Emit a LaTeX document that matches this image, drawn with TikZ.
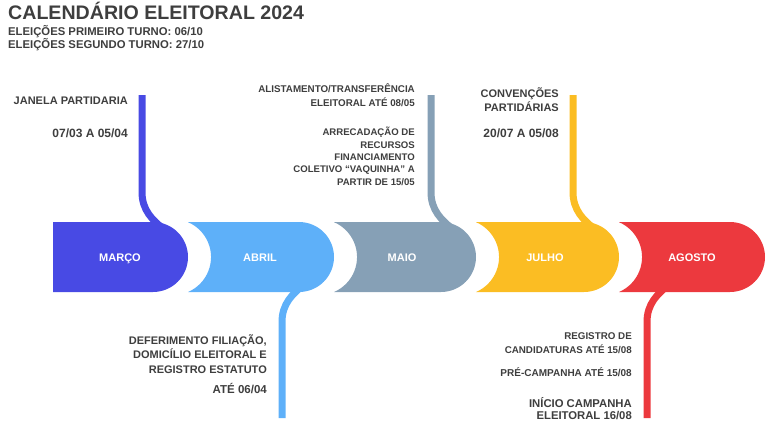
\documentclass[tikz,border=0pt]{standalone}
\usepackage{fontspec}
\setmainfont{Liberation Sans}
\usetikzlibrary{positioning}

\definecolor{ink}{RGB}{62,62,62}
\definecolor{marco}{RGB}{72,74,228}
\definecolor{abril}{RGB}{94,176,249}
\definecolor{maio}{RGB}{134,160,182}
\definecolor{julho}{RGB}{251,189,35}
\definecolor{agosto}{RGB}{236,57,62}

\begin{document}
\begin{tikzpicture}[
  x=1pt, y=-1pt,
  every node/.style={inner sep=0pt, text=ink},
  month/.style={anchor=base, text=white, font=\bfseries\fontsize{11}{13}\selectfont},
  note/.style={anchor=base east, align=right, font=\bfseries\fontsize{11}{14.5}\selectfont},
  small/.style={font=\bfseries\fontsize{9.6}{12.3}\selectfont},
  date/.style={font=\bfseries\fontsize{12}{14}\selectfont},
  tail/.style={line width=7pt}
]
\useasboundingbox (0,0) rectangle (768,424);

% Heading (base = last line)
\node[anchor=base west, font=\bfseries\fontsize{19.6}{24}\selectfont] (title) at (8,19) {CALENDÁRIO ELEITORAL 2024};
\node[anchor=base west, align=left, font=\bfseries\fontsize{11.3}{13.5}\selectfont] (rounds) at (8,48.5) {ELEIÇÕES PRIMEIRO TURNO: 06/10\\ELEIÇÕES SEGUNDO TURNO: 27/10};

% Band of months
\fill[marco] (53,222) -- (153,222) arc[start angle=-90, end angle=90, radius=35] -- (53,292) -- cycle;
\fill[abril] (188,222) -- (299,222) arc[start angle=-90, end angle=90, radius=35] -- (188,292) arc[start angle=66.8, end angle=-66.8, radius=38] -- cycle;
\fill[maio] (334,222) -- (441,222) arc[start angle=-90, end angle=90, radius=35] -- (334,292) arc[start angle=66.8, end angle=-66.8, radius=38] -- cycle;
\fill[julho] (476,222) -- (584,222) arc[start angle=-90, end angle=90, radius=35] -- (476,292) arc[start angle=66.8, end angle=-66.8, radius=38] -- cycle;
\fill[agosto] (619,222) -- (730,222) arc[start angle=-90, end angle=90, radius=35] -- (619,292) arc[start angle=66.8, end angle=-66.8, radius=38] -- cycle;

\node[month] (Marco) at (120,261) {MARÇO};
\node[month] (Abril) at (260,261) {ABRIL};
\node[month] (Maio) at (402,261) {MAIO};
\node[month] (Julho) at (545,261) {JULHO};
\node[month] (Agosto) at (692,261) {AGOSTO};

% Tails
\coordinate (marcoTop) at (142,95);
\coordinate (marcoJoin) at (165,230);
\coordinate (abrilEnd) at (282,418);
\coordinate (abrilJoin) at (305,284);
\coordinate (maioTop) at (431,95);
\coordinate (maioJoin) at (454,230);
\coordinate (julhoTop) at (573,95);
\coordinate (julhoJoin) at (596,230);
\coordinate (agostoEnd) at (647,418);
\coordinate (agostoJoin) at (670,284);

\draw[tail, marco] (marcoTop) -- ++(0,97) .. controls +(0,18) and +(-13,-10) .. (marcoJoin);
\draw[tail, abril] (abrilEnd) -- ++(0,-96) .. controls +(0,-18) and +(-13,10) .. (abrilJoin);
\draw[tail, maio] (maioTop) -- ++(0,97) .. controls +(0,18) and +(-13,-10) .. (maioJoin);
\draw[tail, julho] (julhoTop) -- ++(0,97) .. controls +(0,18) and +(-13,-10) .. (julhoJoin);
\draw[tail, agosto] (agostoEnd) -- ++(0,-96) .. controls +(0,-18) and +(-13,10) .. (agostoJoin);

% Notes above
\node[note] (janela) at (128,104) {JANELA PARTIDARIA};
\node[note, date] (janelaDate) at (128,137) {07/03 A 05/04};
\node[note, font=\bfseries\fontsize{9.8}{14}\selectfont] (alistamento) at (415,106) {ALISTAMENTO/TRANSFERÊNCIA\\ELEITORAL ATÉ 08/05};
\node[note, small] (vaquinha) at (415,185) {ARRECADAÇÃO DE\\RECURSOS\\FINANCIAMENTO\\COLETIVO “VAQUINHA” A\\PARTIR DE 15/05};
\node[note, font=\bfseries\fontsize{11}{14}\selectfont] (convencoes) at (559,111) {CONVENÇÕES\\PARTIDÁRIAS};
\node[note, date] (convencoesDate) at (559,137) {20/07 A 05/08};

% Notes below
\node[note] (deferimento) at (267,373) {DEFERIMENTO FILIAÇÃO,\\DOMICÍLIO ELEITORAL E\\REGISTRO ESTATUTO};
\node[note, font=\bfseries\fontsize{11.5}{14}\selectfont] (deferimentoDate) at (267,393) {ATÉ 06/04};
\node[note, font=\bfseries\fontsize{9.8}{14}\selectfont] (registro) at (632,353) {REGISTRO DE\\CANDIDATURAS ATÉ 15/08};
\node[note, font=\bfseries\fontsize{10}{12}\selectfont] (precampanha) at (632,376) {PRÉ-CAMPANHA ATÉ 15/08};
\node[note, font=\bfseries\fontsize{11.3}{12.5}\selectfont] (campanha) at (632,419.5) {INÍCIO CAMPANHA\\ELEITORAL 16/08};

\end{tikzpicture}
\end{document}
